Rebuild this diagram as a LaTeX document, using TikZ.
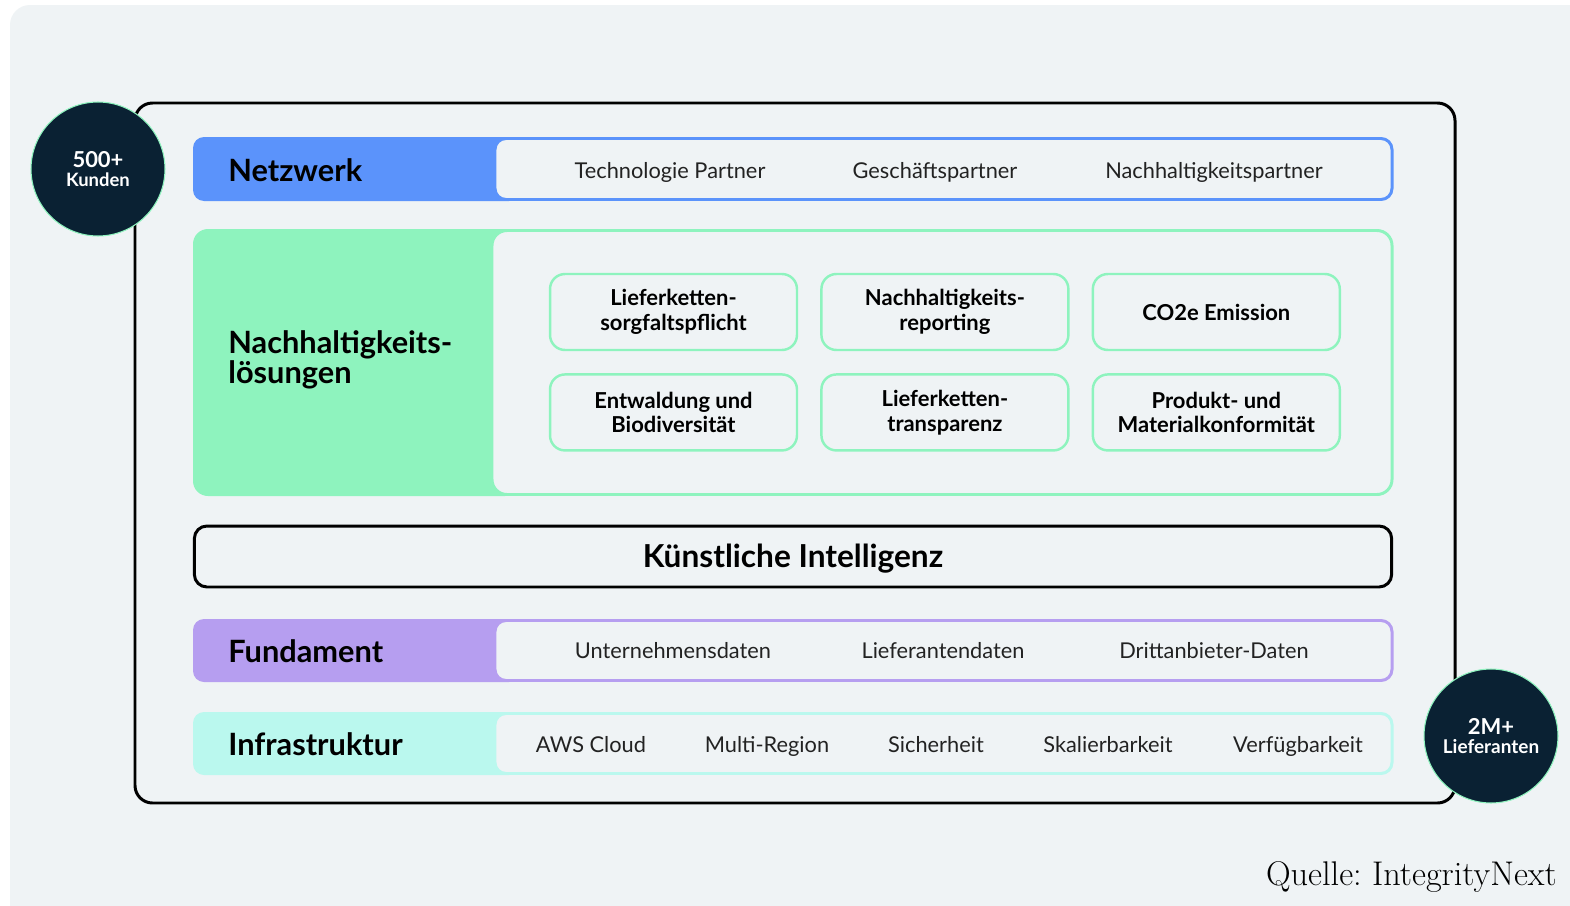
\documentclass[tikz,border=0pt]{standalone}
\usepackage{fontspec}
\newfontfamily\ui{Lato}
\usetikzlibrary{positioning}
\definecolor{canvas}{HTML}{EFF3F5}
\definecolor{navy}{HTML}{0A2133}
\definecolor{netblue}{HTML}{5B93FB}
\definecolor{solgreen}{HTML}{8EF3BE}
\definecolor{fundlila}{HTML}{B69EF0}
\definecolor{infracyan}{HTML}{BAF8EE}
\definecolor{itemgray}{HTML}{222222}
\tikzset{
  stat/.style={circle, fill=navy, draw=solgreen, line width=0.6pt,
    minimum size=2.68cm, inner sep=0pt, text=white, align=center},
  rowtitle/.style={anchor=west, inner sep=0pt, font=\ui\bfseries\fontsize{17.5}{17}\selectfont},
  rowitem/.style={anchor=base, inner sep=0pt, text=itemgray, font=\ui\fontsize{12.4}{14}\selectfont},
  solbox/.style={draw=solgreen, line width=1.4pt, rounded corners=0.3cm, fill=canvas,
    minimum width=4.94cm, minimum height=1.52cm, align=center, inner sep=2pt,
    font=\ui\bfseries\fontsize{12.5}{14.2}\selectfont}
}
\begin{document}
\frenchspacing
\begin{tikzpicture}[x=0.02cm, y=-0.02cm]
  \useasboundingbox (0,0) rectangle (1570,906);
  \fill[white] (0,0) rectangle (1570,906);
  \fill[canvas, rounded corners=0.4cm] (10,5) rectangle (1620,960);
  % Outer frame
  \draw[line width=1.7pt, rounded corners=0.35cm] (135,103) rectangle (1455,803);

  % Netzwerk
  \fill[netblue, rounded corners=0.22cm] (193,137) rectangle (520,201);
  \draw[netblue, line width=1.7pt, fill=canvas, rounded corners=0.22cm] (495,138.5) rectangle (1392,199.5);
  \node[rowtitle] (netz) at (228,170) {Netzwerk};
  \node[rowitem] (tech) at (670,178) {Technologie Partner};
  \node[rowitem] (gesch) at (935,178) {Geschäftspartner};
  \node[rowitem] (nachp) at (1214,178) {Nachhaltigkeitspartner};

  % Nachhaltigkeitsloesungen
  \fill[solgreen, rounded corners=0.3cm] (193,229) rectangle (520,496);
  \draw[solgreen, line width=1.7pt, fill=canvas, rounded corners=0.3cm] (492,230.5) rectangle (1392,494.5);
  \node[rowtitle, align=left, font=\ui\bfseries\fontsize{17.5}{16}\selectfont] (loes) at (228,360)
    {Nachhaltigkeits-\\lösungen};
  \node[solbox] (sorg) at (673.5,312) {Lieferketten-\\sorgfaltspflicht};
  \node[solbox, right=0.44cm of sorg] (report) {Nachhaltigkeits-\\reporting};
  \node[solbox, right=0.44cm of report] (co2) {CO2e Emission};
  \node[solbox, below=0.44cm of sorg] (wald) {Entwaldung und\\Biodiversität};
  \node[solbox, below=0.44cm of report] (transp) {Lieferketten-\\transparenz};
  \node[solbox, below=0.44cm of co2] (konf) {Produkt- und\\Materialkonformität};

  % KI
  \node[draw, line width=1.7pt, rounded corners=0.25cm, minimum width=23.95cm, minimum height=1.22cm,
    text height=13pt, text depth=0pt,
    font=\ui\bfseries\fontsize{18}{18}\selectfont] (ki) at (793,556.5) {Künstliche Intelligenz};

  % Fundament
  \fill[fundlila, rounded corners=0.22cm] (193,619) rectangle (520,682);
  \draw[fundlila, line width=1.7pt, fill=canvas, rounded corners=0.22cm] (495,620.5) rectangle (1392,680.5);
  \node[rowtitle] (fund) at (228,651) {Fundament};
  \node[rowitem] (udat) at (673,658) {Unternehmensdaten};
  \node[rowitem] (ldat) at (943,658) {Lieferantendaten};
  \node[rowitem] (ddat) at (1214,658) {Drittanbieter-Daten};

  % Infrastruktur
  \fill[infracyan, rounded corners=0.22cm] (193,712) rectangle (520,775);
  \draw[infracyan, line width=1.7pt, fill=canvas, rounded corners=0.22cm] (495,713.5) rectangle (1392,773.5);
  \node[rowtitle] (infra) at (228,744) {Infrastruktur};
  \foreach \x/\t [count=\i] in {591/AWS Cloud, 767/Multi-Region, 936/Sicherheit,
      1108/Skalierbarkeit, 1298/Verfügbarkeit}
    \node[rowitem] (inf\i) at (\x,752) {\t};

  % Kennzahlen
  \node[stat] (kunden) at (98,169) {{\ui\bfseries\fontsize{12.5}{12.5}\selectfont 500+}\\[-1pt]
    {\ui\bfseries\fontsize{10.5}{12}\selectfont Kunden}};
  \node[stat] (lief) at (1491,736) {{\ui\bfseries\fontsize{12.5}{12.5}\selectfont 2M+}\\[-1pt]
    {\ui\bfseries\fontsize{10.8}{12}\selectfont Lieferanten}};

  \node[anchor=base east, inner sep=0pt, font=\fontsize{19.5}{22}\selectfont] (quelle) at (1557,885)
    {Quelle: IntegrityNext};
\end{tikzpicture}
\end{document}
